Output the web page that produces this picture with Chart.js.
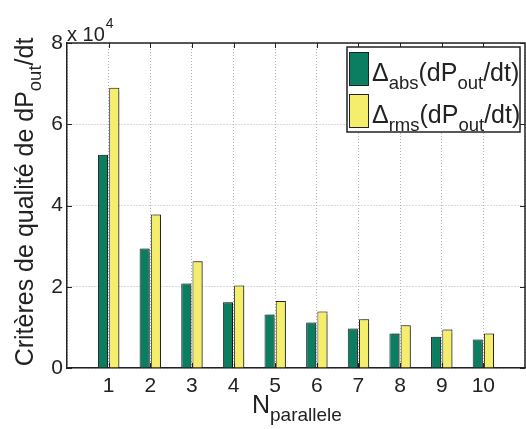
<!DOCTYPE html>
<html>
<head>
<meta charset="utf-8">
<script src="https://cdn.jsdelivr.net/npm/chart.js@4.4.0/dist/chart.umd.min.js"></script>
<style>
  body { margin: 0; background: #fff; }
  canvas { display: block; }
</style>
</head>
<body>
<canvas id="qualityChart" width="526" height="429"></canvas>
<script>
// N_parallele values on the x axis
const nParallele = [1, 2, 3, 4, 5, 6, 7, 8, 9, 10];
// criteria values
const deltaAbs = [52500, 29400, 20800, 16200, 13200, 11200, 9700, 8500, 7700, 7000];
const deltaRms = [69000, 37800, 26300, 20300, 16500, 13900, 12000, 10500, 9500, 8500];
const yTicks = [0, 20000, 40000, 60000, 80000];

const FONT = '"Liberation Sans", Arial, Helvetica, sans-serif';
const INK = '#222';

// draw text pieces along a baseline, some of them as subscripts
function drawRich(ctx, parts, x, y, size, subSize) {
    let cx = x;
    parts.forEach(p => {
        const s = p.sub ? subSize : size;
        ctx.font = s + 'px ' + FONT;
        ctx.fillText(p.t, cx, y + (p.sub ? size * 0.3 : 0));
        cx += ctx.measureText(p.t).width;
    });
    return cx - x;
}
function richWidth(ctx, parts, size, subSize) {
    let w = 0;
    parts.forEach(p => {
        ctx.font = (p.sub ? subSize : size) + 'px ' + FONT;
        w += ctx.measureText(p.t).width;
    });
    return w;
}

const decorations = {
    id: 'decorations',
    beforeDatasetsDraw(chart) {
        const ctx = chart.ctx;
        ctx.save();
        ctx.shadowColor = 'rgba(0,0,0,0.35)';
        ctx.shadowOffsetX = 2;
        ctx.shadowOffsetY = 0;
        ctx.shadowBlur = 1;
    },
    afterDatasetsDraw(chart) {
        chart.ctx.restore();
    },
    afterDraw(chart) {
        const ctx = chart.ctx;
        const a = chart.chartArea;
        const xs = chart.scales.x, ys = chart.scales.y;
        ctx.save();
        ctx.fillStyle = INK;
        ctx.strokeStyle = INK;

        // box: top and right edges
        ctx.lineWidth = 1.5;
        ctx.beginPath();
        ctx.moveTo(a.left, a.top);
        ctx.lineTo(a.right, a.top);
        ctx.lineTo(a.right, a.bottom);
        ctx.stroke();

        // inner tick marks
        ctx.lineWidth = 1;
        ctx.beginPath();
        nParallele.forEach(n => {
            const px = Math.round(xs.getPixelForValue(n)) + 0.5;
            ctx.moveTo(px, a.top); ctx.lineTo(px, a.top + 5);
            ctx.moveTo(px, a.bottom); ctx.lineTo(px, a.bottom - 5);
        });
        yTicks.forEach(v => {
            const py = Math.round(ys.getPixelForValue(v)) + 0.5;
            ctx.moveTo(a.left, py); ctx.lineTo(a.left + 5, py);
            ctx.moveTo(a.right, py); ctx.lineTo(a.right - 5, py);
        });
        ctx.stroke();

        ctx.textBaseline = 'alphabetic';
        ctx.textAlign = 'left';

        // exponent label
        ctx.font = '20px ' + FONT;
        ctx.fillText('x 10', 67, 41);
        const w10 = ctx.measureText('x 10').width;
        ctx.font = '14px ' + FONT;
        ctx.fillText('4', 67 + w10 + 1, 28);

        // x title
        const xt = [{ t: 'N' }, { t: 'parallele', sub: true }];
        const xw = richWidth(ctx, xt, 25, 19);
        drawRich(ctx, xt, 252, 413, 25, 19);

        // y title (rotated)
        const yt = [{ t: 'Critères de qualité de dP' }, { t: 'out', sub: true }, { t: '/dt' }];
        const yw = richWidth(ctx, yt, 25, 18.5);
        ctx.save();
        ctx.translate(33, 202);
        ctx.rotate(-Math.PI / 2);
        drawRich(ctx, yt, -yw / 2, 0, 25, 18.5);
        ctx.restore();

        // legend
        const lx = 347, ly = 47, lw = 173, lh = 85;
        ctx.fillStyle = '#fff';
        ctx.fillRect(lx, ly, lw, lh);
        ctx.lineWidth = 1.5;
        ctx.strokeRect(lx, ly, lw, lh);
        const rows = [
            { ds: chart.data.datasets[0], sub: 'abs', top: 52 },
            { ds: chart.data.datasets[1], sub: 'rms', top: 94 }
        ];
        rows.forEach(r => {
            ctx.fillStyle = r.ds.backgroundColor;
            ctx.fillRect(349.5, r.top + 0.5, 19, 33);
            ctx.lineWidth = 1;
            ctx.strokeStyle = INK;
            ctx.strokeRect(349.5, r.top + 0.5, 19, 33);
            ctx.fillStyle = INK;
            drawRich(ctx, [{ t: '\u0394' }, { t: r.sub, sub: true }, { t: '(dP' }, { t: 'out', sub: true }, { t: '/dt)' }],
                372, r.top + 29, 25, 18.5);
        });
        ctx.restore();
    }
};

const ctxQuality = document.getElementById('qualityChart').getContext('2d');
new Chart(ctxQuality, {
    type: 'bar',
    data: {
        datasets: [{
            label: '\u0394abs(dPout/dt)',
            data: nParallele.map((n, i) => ({ x: n, y: deltaAbs[i] })),
            backgroundColor: '#0b7e62',
            borderColor: INK,
            borderWidth: 1,
            borderSkipped: 'bottom',
            categoryPercentage: 0.54,
            barPercentage: 0.9
        }, {
            label: '\u0394rms(dPout/dt)',
            data: nParallele.map((n, i) => ({ x: n, y: deltaRms[i] })),
            backgroundColor: '#f4ee6c',
            borderColor: INK,
            borderWidth: 1,
            borderSkipped: 'bottom',
            categoryPercentage: 0.54,
            barPercentage: 0.9
        }]
    },
    options: {
        responsive: false,
        animation: false,
        devicePixelRatio: 1,
        layout: { padding: { top: 43, right: 1, left: 0, bottom: 0 } },
        plugins: {
            legend: { display: false },
            tooltip: { enabled: false }
        },
        scales: {
            x: {
                type: 'linear',
                offset: false,
                min: 0,
                max: 11,
                afterBuildTicks: scale => { scale.ticks = [0].concat(nParallele, [11]).map(v => ({ value: v })); },
                afterFit: scale => {
                    scale.height = 61;
                    scale.paddingLeft = 0;
                    scale.paddingRight = 0;
                },
                ticks: {
                    callback: v => (v >= 1 && v <= 10 ? String(v) : ''),
                    font: { family: FONT, size: 21 },
                    color: INK,
                    padding: 6,
                    maxRotation: 0,
                    autoSkip: false
                },
                grid: { offset: false, color: '#b5b5b5', drawTicks: false, tickLength: 0 },
                border: { color: INK, width: 1.5, dash: [1, 2] }
            },
            y: {
                min: 0,
                max: 80000,
                afterBuildTicks: scale => { scale.ticks = yTicks.map(v => ({ value: v })); },
                afterFit: scale => { scale.width = 67; },
                ticks: {
                    callback: v => String(v / 10000),
                    font: { family: FONT, size: 21 },
                    color: INK,
                    padding: 4
                },
                grid: { color: '#b5b5b5', drawTicks: false, tickLength: 0 },
                border: { color: INK, width: 1.5, dash: [1, 2] }
            }
        }
    },
    plugins: [decorations]
});
</script>
</body>
</html>
